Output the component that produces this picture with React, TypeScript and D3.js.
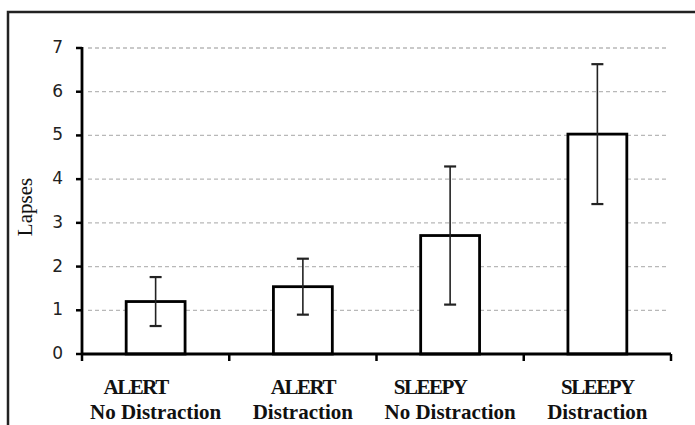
import React from 'react';
import * as d3 from 'd3';

// values
const categories = ['alertNoDist', 'alertDist', 'sleepyNoDist', 'sleepyDist'];
const labelTop = ['ALERT', 'ALERT', 'SLEEPY', 'SLEEPY'];
const labelBottom = ['No Distraction', 'Distraction', 'No Distraction', 'Distraction'];
const means = [1.2, 1.54, 2.71, 5.03];
const errors = [0.56, 0.64, 1.58, 1.6];
const yTicks = [0, 1, 2, 3, 4, 5, 6, 7];

const W = 695;
const H = 425;
const margin = { top: 48, right: 24, bottom: 71, left: 82 };

export default function App() {
  const x = d3
    .scaleBand<string>()
    .domain(categories)
    .range([margin.left, W - margin.right])
    .paddingInner(0.6)
    .paddingOuter(0.3);

  const y = d3
    .scaleLinear()
    .domain([0, 7])
    .range([H - margin.bottom, margin.top]);

  const step = x.step();
  const x0 = margin.left;
  const x1 = W - margin.right;
  const base = y(0);

  return (
    <svg
      width={W}
      height={H}
      style={{ position: 'absolute', left: 0, top: 0, background: '#fff' }}
    >
      {/* frame: top and left edges only */}
      <path d={`M8,${H} V12 H${W}`} fill="none" stroke="#222" strokeWidth={2.5} />

      {/* grid lines */}
      {yTicks.filter(t => t > 0).map(t => (
        <line
          key={`g${t}`}
          x1={x0 + 6}
          x2={x1 - 3}
          y1={y(t)}
          y2={y(t)}
          stroke="#b8b8b8"
          strokeWidth={1.3}
          strokeDasharray="4 3"
        />
      ))}

      {/* bars */}
      {categories.map((c, i) => (
        <rect
          key={c}
          x={x(c)}
          y={y(means[i])}
          width={x.bandwidth()}
          height={base - y(means[i])}
          fill="#fff"
          stroke="#000"
          strokeWidth={2.8}
        />
      ))}

      {/* error bars */}
      {categories.map((c, i) => {
        const cx = (x(c) as number) + x.bandwidth() / 2;
        const top = y(means[i] + errors[i]);
        const bot = y(means[i] - errors[i]);
        return (
          <g key={`e${c}`} stroke="#222" strokeWidth={1.6}>
            <line x1={cx} x2={cx} y1={top} y2={bot} />
            <line x1={cx - 6} x2={cx + 6} y1={top} y2={top} strokeWidth={2.2} />
            <line x1={cx - 6} x2={cx + 6} y1={bot} y2={bot} strokeWidth={2.2} />
          </g>
        );
      })}

      {/* y axis */}
      <line x1={x0} x2={x0} y1={y(7) - 1} y2={base + 1} stroke="#000" strokeWidth={2.8} />
      {yTicks.map(t => (
        <g key={`t${t}`}>
          <line x1={x0 - 6} x2={x0} y1={y(t)} y2={y(t)} stroke="#000" strokeWidth={2.5} />
          <text
            x={63}
            y={y(t) - 1}
            textAnchor="end"
            dominantBaseline="central"
            fontFamily="'DejaVu Sans', sans-serif"
            fontSize={17}
            fill="#222"
          >
            {t}
          </text>
        </g>
      ))}

      {/* x axis */}
      <line x1={x0} x2={x1} y1={base} y2={base} stroke="#000" strokeWidth={2.8} />
      {d3.range(categories.length + 1).map(k => (
        <line
          key={`xt${k}`}
          x1={x0 + k * step}
          x2={x0 + k * step}
          y1={base}
          y2={base + 7}
          stroke="#000"
          strokeWidth={2.5}
        />
      ))}

      {/* category labels */}
      {categories.map((c, i) => {
        const cx = (x(c) as number) + x.bandwidth() / 2;
        const shift = labelBottom[i].startsWith('No') ? -20 : 0;
        return (
          <g
            key={`l${c}`}
            fontFamily="'Liberation Serif', 'Times New Roman', serif"
            fontWeight="bold"
            fontSize={21}
            fill="#111"
            textAnchor="middle"
          >
            <text x={cx + shift} y={394} letterSpacing={-1.5}>
              {labelTop[i]}
            </text>
            <text x={cx} y={419}>
              {labelBottom[i]}
            </text>
          </g>
        );
      })}

      {/* y axis title */}
      <text
        transform="translate(32,207) rotate(-90)"
        textAnchor="middle"
        fontFamily="'Liberation Serif', 'Times New Roman', serif"
        fontSize={21}
        fill="#111"
      >
        Lapses
      </text>
    </svg>
  );
}
